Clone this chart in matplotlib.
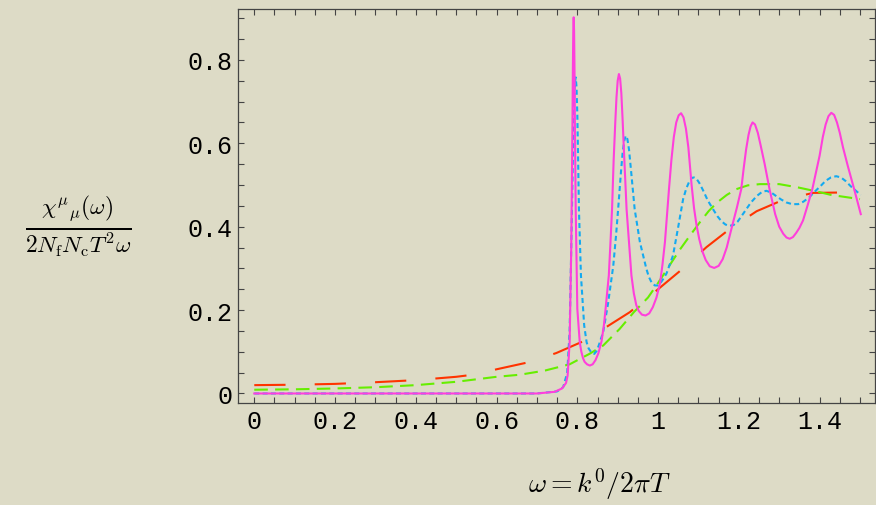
import matplotlib
matplotlib.use("Agg")
import matplotlib.pyplot as plt
from matplotlib.ticker import MultipleLocator, FuncFormatter

# omega values and spectral function, read curve by curve
mag_w = [0.0, 0.70, 0.744, 0.762, 0.772, 0.776, 0.781, 0.785, 0.788, 0.789, 0.790,
         0.791, 0.792, 0.793, 0.794, 0.796, 0.800, 0.806, 0.810, 0.814, 0.818, 0.824,
         0.831, 0.838, 0.845, 0.852, 0.860, 0.866, 0.870, 0.878, 0.882, 0.886, 0.890,
         0.894, 0.897, 0.900, 0.903, 0.906, 0.909, 0.912, 0.916, 0.922, 0.934, 0.940,
         0.946, 0.952, 0.960, 0.969, 0.978, 0.987, 0.996, 1.005, 1.011, 1.017, 1.027,
         1.033, 1.039, 1.045, 1.051, 1.057, 1.063, 1.069, 1.075, 1.079, 1.083, 1.089,
         1.095, 1.102, 1.110, 1.118, 1.128, 1.139, 1.150, 1.160, 1.170, 1.183, 1.195,
         1.206, 1.212, 1.218, 1.224, 1.229, 1.234, 1.240, 1.247, 1.254, 1.264, 1.276,
         1.290, 1.300, 1.310, 1.318, 1.326, 1.334, 1.342, 1.350, 1.359, 1.370, 1.382,
         1.391, 1.400, 1.408, 1.415, 1.422, 1.429, 1.436, 1.443, 1.450, 1.458, 1.470,
         1.487, 1.502]
mag_chi = [0.0, 0.0, 0.004, 0.012, 0.025, 0.043, 0.123, 0.35, 0.65, 0.78, 0.87,
           0.902, 0.87, 0.78, 0.65, 0.442, 0.203, 0.123, 0.100, 0.085, 0.076, 0.070,
           0.067, 0.070, 0.080, 0.096, 0.125, 0.165, 0.203, 0.283, 0.36, 0.442, 0.56,
           0.65, 0.71, 0.75, 0.766, 0.755, 0.72, 0.66, 0.57, 0.442, 0.283, 0.240,
           0.212, 0.198, 0.189, 0.187, 0.192, 0.207, 0.230, 0.265, 0.31, 0.363, 0.49,
           0.56, 0.615, 0.65, 0.667, 0.672, 0.662, 0.635, 0.59, 0.545, 0.50, 0.445,
           0.405, 0.37, 0.34, 0.32, 0.305, 0.301, 0.306, 0.322, 0.35, 0.40, 0.445,
           0.49, 0.54, 0.585, 0.62, 0.64, 0.650, 0.645, 0.625, 0.595, 0.55, 0.49,
           0.43, 0.40, 0.383, 0.374, 0.371, 0.375, 0.385, 0.397, 0.415, 0.45, 0.49,
           0.53, 0.57, 0.615, 0.645, 0.665, 0.673, 0.668, 0.65, 0.625, 0.59, 0.545,
           0.485, 0.43]

blue_w = [0.0, 0.70, 0.750, 0.765, 0.775, 0.781, 0.786, 0.790, 0.792, 0.794, 0.796,
          0.798, 0.800, 0.802, 0.804, 0.809, 0.817, 0.823, 0.828, 0.835, 0.842, 0.848,
          0.853, 0.864, 0.876, 0.889, 0.896, 0.903, 0.908, 0.912, 0.916, 0.920, 0.924,
          0.928, 0.933, 0.942, 0.955, 0.971, 0.977, 0.984, 0.992, 0.999, 1.006, 1.013,
          1.021, 1.037, 1.050, 1.062, 1.070, 1.078, 1.084, 1.089, 1.095, 1.102, 1.111,
          1.123, 1.136, 1.147, 1.157, 1.167, 1.177, 1.187, 1.197, 1.210, 1.230, 1.245,
          1.257, 1.268, 1.280, 1.293, 1.305, 1.318, 1.332, 1.347, 1.360, 1.374, 1.388,
          1.402, 1.415, 1.428, 1.441, 1.453, 1.465, 1.477, 1.490, 1.502]
blue_chi = [0.0, 0.0, 0.005, 0.015, 0.05, 0.15, 0.40, 0.62, 0.70, 0.745, 0.758,
            0.735, 0.67, 0.56, 0.442, 0.283, 0.163, 0.123, 0.108, 0.098, 0.095, 0.102,
            0.115, 0.147, 0.215, 0.306, 0.38, 0.466, 0.53, 0.575, 0.605, 0.618, 0.61,
            0.585, 0.535, 0.442, 0.363, 0.299, 0.280, 0.266, 0.259, 0.259, 0.265, 0.275,
            0.288, 0.331, 0.40, 0.466, 0.492, 0.51, 0.517, 0.518, 0.515, 0.505, 0.488,
            0.463, 0.442, 0.425, 0.413, 0.405, 0.402, 0.404, 0.412, 0.43, 0.458, 0.474,
            0.483, 0.486, 0.482, 0.473, 0.465, 0.458, 0.454, 0.454, 0.46, 0.47, 0.484,
            0.497, 0.51, 0.518, 0.521, 0.518, 0.509, 0.497, 0.486, 0.476]

green_w = [0.0, 0.1, 0.2, 0.3, 0.4, 0.5, 0.6, 0.658, 0.72, 0.781, 0.83, 0.864,
           0.905, 0.94, 0.975, 1.0, 1.027, 1.054, 1.080, 1.103, 1.125, 1.145, 1.170,
           1.194, 1.222, 1.252, 1.3, 1.347, 1.39, 1.429, 1.5]
green_chi = [0.009, 0.010, 0.012, 0.015, 0.020, 0.028, 0.040, 0.045, 0.055, 0.07,
             0.095, 0.115, 0.155, 0.195, 0.23, 0.265, 0.305, 0.345, 0.38, 0.41,
             0.437, 0.457, 0.476, 0.49, 0.499, 0.502, 0.502, 0.494, 0.485, 0.476,
             0.466]

red_w = [0.0, 0.1, 0.2, 0.3, 0.4, 0.5, 0.55, 0.6, 0.68, 0.748, 0.819, 0.93, 1.0,
         1.062, 1.12, 1.177, 1.244, 1.309, 1.384, 1.46]
red_chi = [0.020, 0.021, 0.023, 0.027, 0.032, 0.040, 0.046, 0.058, 0.075, 0.097,
           0.127, 0.195, 0.250, 0.300, 0.351, 0.394, 0.437, 0.464, 0.481, 0.482]

x_ticks = [0, 0.2, 0.4, 0.6, 0.8, 1.0, 1.2, 1.4]
y_ticks = [0, 0.2, 0.4, 0.6, 0.8]

bg = "#dddbc6"
plt.rcParams["mathtext.fontset"] = "cm"

fig = plt.figure(figsize=(8.76, 5.06), dpi=100, facecolor=bg)
ax = fig.add_axes([0.2717, 0.2016, 0.7266, 0.7787], facecolor=bg)

line_kw = dict(lw=1.5, solid_joinstyle="round", dash_joinstyle="round")
ax.plot(red_w, red_chi, color="#ff3300", linestyle=(0, (15, 14)), **line_kw)
ax.plot(green_w, green_chi, color="#66ee00", linestyle=(0, (6.5, 3.5)), **line_kw)
ax.plot(blue_w, blue_chi, color="#14aaf0", linestyle=(0, (2.4, 1.6)), **line_kw)
ax.plot(mag_w, mag_chi, color="#ff3fdc", **line_kw)

ax.set_xlim(-0.0403, 1.536)
ax.set_ylim(-0.0228, 0.922)

ax.set_xticks(x_ticks)
ax.set_yticks(y_ticks)
ax.xaxis.set_minor_locator(MultipleLocator(0.05))
ax.yaxis.set_minor_locator(MultipleLocator(0.05))
fmt = FuncFormatter(lambda v, p: "0" if abs(v) < 1e-9 else ("1" if abs(v - 1) < 1e-9 else f"{v:g}"))
ax.xaxis.set_major_formatter(fmt)
ax.yaxis.set_major_formatter(fmt)

ax.tick_params(which="both", direction="in", top=True, right=True,
               length=4, width=0.8, color="#444444")
ax.tick_params(which="major", labelsize=18, pad=4)
for lab in ax.get_xticklabels() + ax.get_yticklabels():
    lab.set_family("Liberation Mono")
for sp in ax.spines.values():
    sp.set_color("#444444")
    sp.set_linewidth(0.9)

fig.text(78 / 876, 1 - 227 / 506,
         r"$\frac{\chi^{\mu}{}_{\mu}(\omega)}{2N_{\mathrm{f}}N_{\mathrm{c}}T^2\omega}$",
         ha="center", va="center", fontsize=24)
fig.text(600 / 876, 1 - 484 / 506, r"$\omega = k^0/2\pi T$",
         ha="center", va="center", fontsize=20)

fig.savefig("out.png", dpi=100, facecolor=bg)
